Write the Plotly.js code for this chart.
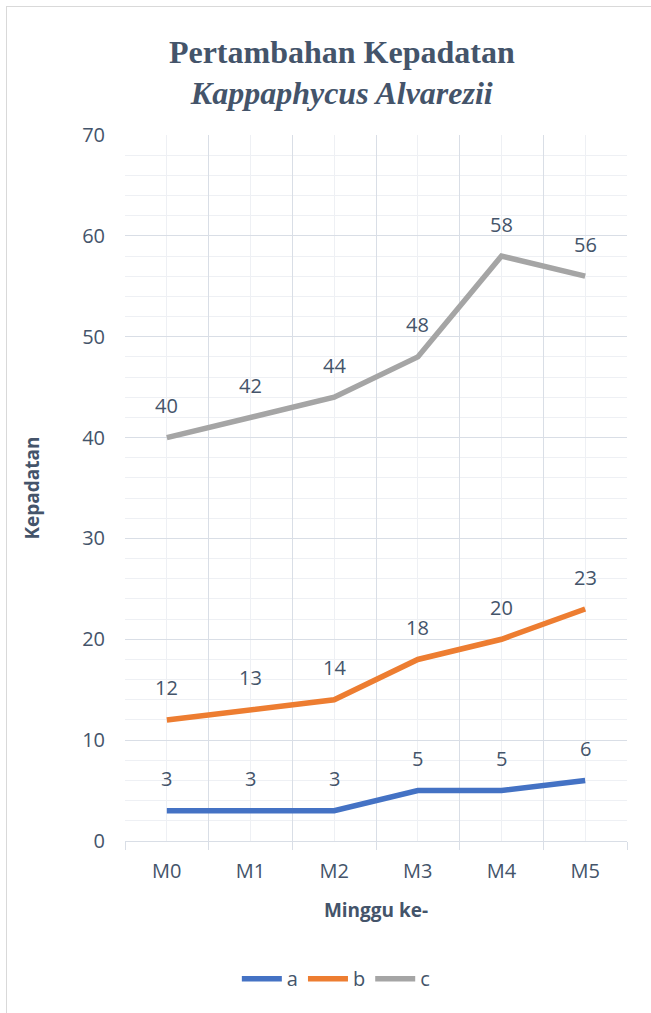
<!DOCTYPE html>
<html><head><meta charset="utf-8">
<script src="https://cdn.plot.ly/plotly-3.0.1.min.js"></script>
<style>
html,body{margin:0;padding:0;background:#fff;}
#wrap{position:relative;width:651px;height:1013px;}
#frame{position:absolute;left:6px;top:6px;width:660px;height:1020px;border:1px solid #D9D9D9;box-sizing:border-box;pointer-events:none;}
#chart{position:absolute;left:0;top:0;width:651px;height:1013px;}
</style>
</head><body>
<div id="wrap"><div id="chart"></div><div id="frame"></div></div>
<script>
const categories = ["M0","M1","M2","M3","M4","M5"];
const seriesA = [3,3,3,5,5,6];
const seriesB = [12,13,14,18,20,23];
const seriesC = [40,42,44,48,58,56];
const seriesNames = ["a","b","c"];
const colors = ["#4472C4","#ED7D31","#A5A5A5"];
const txt = "#44546A";
const font = "Open Sans, Noto Sans, sans-serif";

const all = [seriesA, seriesB, seriesC];
const traces = all.map((s,i)=>({
  type:"scatter", mode:"lines", x:categories, y:s, name:seriesNames[i],
  line:{color:colors[i], width:5.5}, hoverinfo:"x+y", xaxis:"x", yaxis:"y"
}));
traces.push({type:"scatter", mode:"lines", x:[-0.5,5.5], y:[0,0], xaxis:"x2", yaxis:"y",
  line:{width:0,color:"rgba(0,0,0,0)"}, showlegend:false, hoverinfo:"skip"});

const annotations = [];
all.forEach((s,i)=>{
  s.forEach((v,j)=>{
    annotations.push({x:categories[j], y:v, xref:"x", yref:"y", text:String(v),
      showarrow:false, yshift:32, font:{family:font, size:20, color:txt}});
  });
});

const layout = {
  width:651, height:1013,
  margin:{l:125, r:24, t:135, b:172},
  paper_bgcolor:"#fff", plot_bgcolor:"#fff",
  showlegend:true,
  title:{text:"<b>Pertambahan Kepadatan</b><br><b><i>Kappaphycus Alvarezii</i></b>",
    x:0.525, xanchor:"center", y:0.938, yanchor:"top",
    font:{family:"Liberation Serif, DejaVu Serif, serif", size:32, color:txt}},
  xaxis:{type:"category", range:[-0.5,5.5], showgrid:false, zeroline:false, showline:false,
    ticks:"outside", ticklen:12, tickcolor:"rgba(0,0,0,0)",
    tickfont:{family:font, size:20, color:txt},
    title:{text:"<b>Minggu ke-</b>", font:{family:font, size:19, color:txt}, standoff:20},
    fixedrange:true},
  xaxis2:{type:"linear", overlaying:"x", anchor:"y", side:"bottom", range:[-0.5,5.5],
    tick0:-0.5, dtick:1, showticklabels:false, showgrid:true, gridcolor:"#D9DEE6", gridwidth:1,
    ticks:"outside", ticklen:8, tickcolor:"#D9DEE6", showline:true, linecolor:"#D9DEE6", linewidth:1,
    zeroline:false,
    minor:{tick0:0, dtick:1, showgrid:true, gridcolor:"#EEF0F4", ticks:""}},
  yaxis:{range:[0,70], dtick:10, showgrid:true, gridcolor:"#D9DEE6", gridwidth:1,
    zeroline:false, showline:false, ticks:"", ticklabelstandoff:19,
    tickfont:{family:font, size:20, color:txt},
    minor:{dtick:2, showgrid:true, gridcolor:"#EEF0F4"},
    title:{text:"<b>Kepadatan</b>", font:{family:font, size:19, color:txt}, standoff:37},
    fixedrange:true},
  legend:{orientation:"h", x:0.42, xanchor:"center", y:-0.195, yanchor:"middle",
    font:{family:font, size:20, color:txt}, itemwidth:40, tracegroupgap:0},
  annotations:annotations
};
Plotly.newPlot("chart", traces, layout, {displayModeBar:false, staticPlot:true});
</script>
</body></html>
